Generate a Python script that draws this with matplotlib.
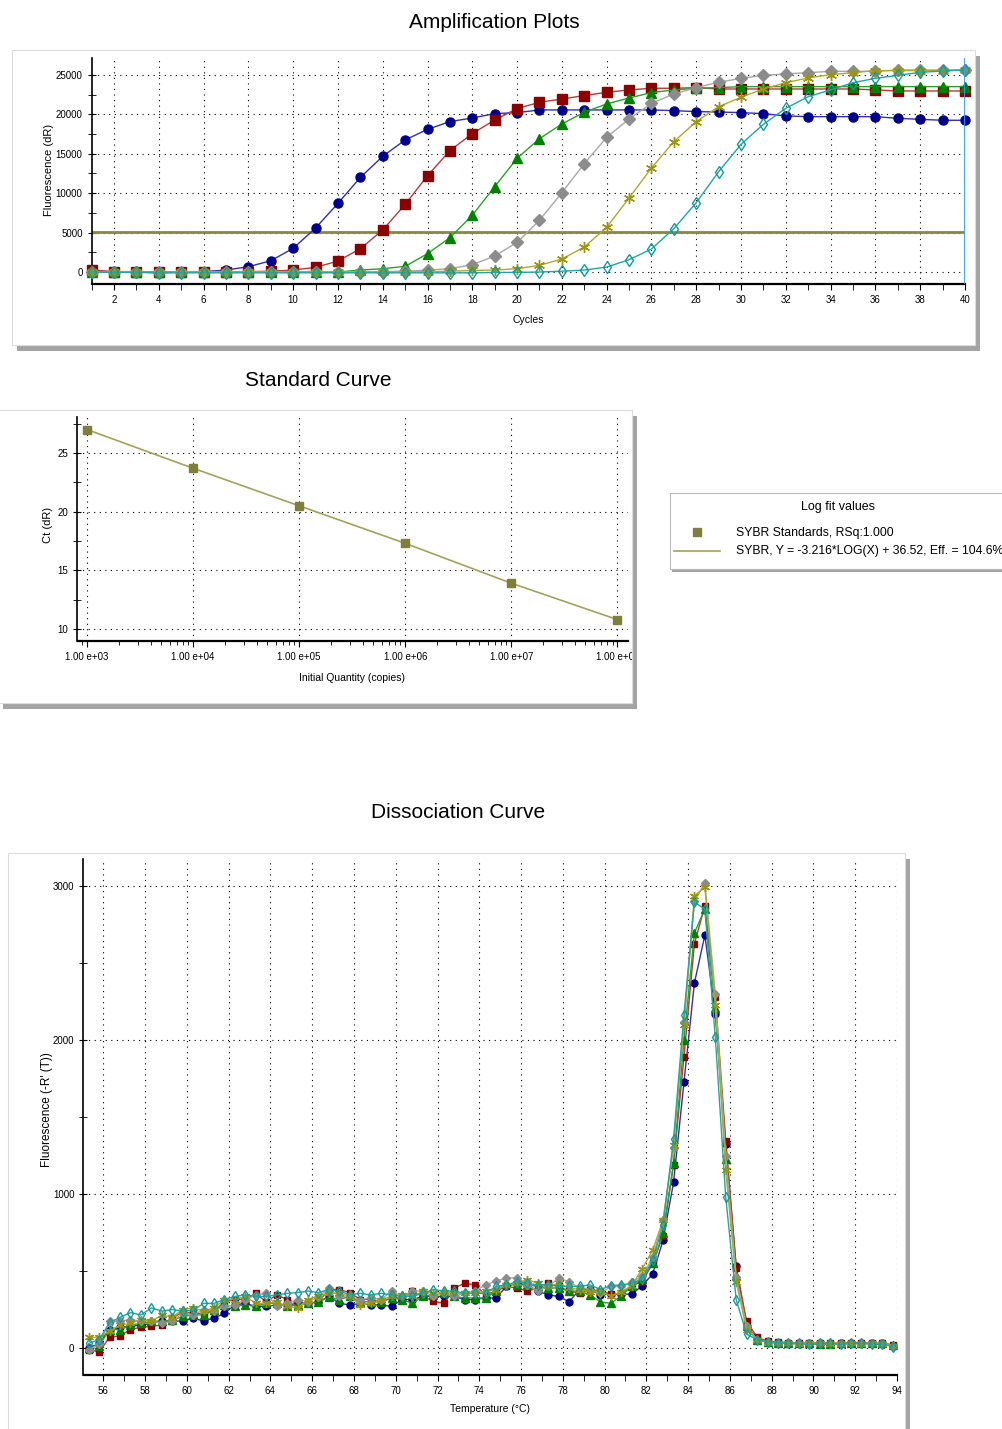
import numpy as np
import matplotlib
matplotlib.use("Agg")
import matplotlib.pyplot as plt
from matplotlib.patches import Rectangle
from matplotlib.lines import Line2D
from matplotlib.ticker import MultipleLocator, FixedLocator, LogLocator, NullFormatter, FuncFormatter
from matplotlib.transforms import Bbox, TransformedBbox

plt.rcParams['font.family'] = ['Liberation Sans Narrow', 'Liberation Sans', 'DejaVu Sans']

# ---------------- data ----------------
cycles = np.arange(1, 41)
amp_blue = [150, 0, 0, -100, 0, 50, 250, 670, 1430, 3000,
            5580, 8710, 12000, 14680, 16750, 18100, 19080, 19540, 20090, 20220,
            20560, 20560, 20560, 20560, 20560, 20560, 20470, 20350, 20300, 20220,
            20090, 19800, 19710, 19710, 19710, 19710, 19500, 19370, 19250, 19250]
amp_red = [250, 50, 50, 0, 50, 50, 50, 50, 100, 250,
           590, 1390, 2960, 5330, 8580, 12220, 15400, 17560, 19290, 20730,
           21530, 21950, 22380, 22800, 23100, 23310, 23310, 23390, 23220, 23220,
           23220, 23220, 23220, 23220, 23220, 23100, 22970, 22970, 22970, 22970]
amp_green = [0, 0, 0, -50, 0, 0, 0, 0, 0, 0,
             50, 0, 250, 420, 720, 2330, 4360, 7190, 10830, 14420,
             16920, 18780, 20270, 21320, 22080, 22760, 23100, 23310, 23390, 23520,
             23520, 23520, 23520, 23520, 23520, 23520, 23520, 23520, 23520, 23520]
amp_grey = [0, 0, 0, -50, 0, 0, 0, 0, 0, 0,
            0, 0, 0, 50, 100, 250, 420, 930, 2030, 3760,
            6560, 10070, 13750, 17090, 19410, 21400, 22590, 23390, 24070, 24570,
            24950, 25130, 25290, 25460, 25460, 25460, 25630, 25630, 25630, 25630]
amp_olive = [0, 0, 0, -50, 0, 0, 0, 0, 0, 0,
             0, 0, 0, 0, 0, 50, 100, 200, 250, 420,
             850, 1650, 3170, 5670, 9390, 13200, 16540, 19080, 20980, 22170,
             23220, 24020, 24620, 25040, 25290, 25550, 25550, 25550, 25550, 25630]
amp_teal = [0, -50, -50, -100, -100, -100, -100, -100, -100, -100,
            -100, -100, -100, -100, -100, -100, -100, -100, -50, -50,
            0, 100, 250, 630, 1560, 2920, 5500, 8800, 12730, 16200,
            18740, 20770, 22250, 23100, 24020, 24570, 24950, 25330, 25500, 25630]
threshold = 5100

quantity = [1e3, 1e4, 1e5, 1e6, 1e7, 1e8]
ct = [27.0, 23.7, 20.5, 17.3, 13.9, 10.8]
legend_title = 'Log fit values'
legend_labels = ['SYBR Standards, RSq:1.000',
                 'SYBR, Y = -3.216*LOG(X) + 36.52, Eff. = 104.6%']

temps = np.arange(55.3, 94.0, 0.5)
dis_blue = [0, 30, 120, 135, 140, 150, 160, 175, 175, 175,
            195, 175, 195, 225, 280, 290, 270, 270, 280, 280,
            290, 290, 300, 335, 290, 280, 290, 280, 280, 270,
            315, 315, 335, 335, 335, 335, 315, 315, 325, 325,
            400, 420, 410, 370, 345, 335, 300, 380, 380, 345,
            350, 350, 350, 405, 480, 700, 1075, 1725, 2370, 2680,
            2170, 1325, 530, 145, 60, 40, 35, 30, 30, 25,
            30, 25, 30, 35, 35, 30, 30, 15]
dis_red = [-10, -25, 70, 80, 120, 135, 140, 150, 195, 235,
           225, 225, 240, 300, 315, 315, 355, 300, 345, 315,
           290, 290, 300, 380, 380, 360, 315, 315, 300, 325,
           325, 370, 335, 305, 290, 390, 420, 410, 345, 370,
           400, 390, 370, 390, 420, 400, 370, 355, 380, 370,
           350, 355, 405, 430, 550, 730, 1190, 1890, 2625, 2870,
           2280, 1345, 520, 175, 70, 45, 40, 35, 35, 30,
           35, 35, 30, 30, 35, 30, 30, 20]
dis_green = [0, 15, 120, 120, 150, 160, 175, 175, 180, 205,
             215, 215, 250, 280, 270, 280, 270, 290, 290, 270,
             280, 290, 300, 330, 315, 335, 300, 300, 300, 325,
             315, 290, 335, 345, 355, 335, 325, 325, 325, 370,
             420, 410, 410, 400, 390, 390, 370, 370, 345, 300,
             290, 340, 400, 450, 550, 745, 1200, 2000, 2695, 2850,
             2210, 1225, 470, 140, 55, 40, 35, 30, 30, 30,
             25, 25, 30, 30, 30, 30, 30, 20]
dis_grey = [-10, 25, 175, 175, 185, 175, 175, 160, 175, 225,
            215, 250, 240, 270, 280, 315, 345, 355, 270, 290,
            315, 300, 330, 390, 335, 335, 315, 325, 315, 370,
            335, 370, 370, 335, 355, 335, 355, 370, 410, 435,
            455, 455, 410, 370, 400, 455, 430, 390, 380, 355,
            400, 400, 430, 465, 590, 830, 1300, 2120, 2900, 3020,
            2300, 1250, 460, 140, 55, 40, 35, 30, 35, 30,
            30, 35, 30, 30, 30, 35, 30, 15]
dis_olive = [70, 70, 110, 150, 160, 185, 175, 215, 200, 250,
             260, 240, 260, 315, 315, 335, 290, 290, 300, 270,
             260, 315, 340, 355, 355, 335, 280, 290, 315, 335,
             345, 335, 368, 355, 365, 355, 355, 355, 368, 380,
             410, 420, 445, 420, 400, 420, 390, 380, 365, 365,
             340, 365, 405, 515, 635, 830, 1320, 2100, 2935, 2995,
             2230, 1155, 430, 120, 55, 35, 30, 30, 25, 30,
             30, 25, 25, 30, 25, 30, 25, 15]
dis_teal = [30, 55, 165, 200, 230, 215, 260, 240, 250, 240,
            245, 290, 290, 315, 335, 345, 335, 335, 345, 355,
            360, 370, 360, 380, 370, 345, 355, 345, 355, 345,
            335, 335, 355, 380, 370, 370, 355, 355, 355, 400,
            410, 430, 420, 410, 410, 400, 400, 400, 410, 380,
            405, 410, 420, 450, 570, 800, 1355, 2165, 2895, 2850,
            2020, 980, 315, 90, 55, 40, 35, 30, 30, 25,
            30, 30, 25, 30, 30, 25, 25, 10]

# ---------------- layout helpers ----------------
W, H = 1003, 1429
fig = plt.figure(figsize=(W / 100, H / 100), dpi=100)


def ax_rect(l, t, r, b):
    return [l / W, 1 - b / H, (r - l) / W, (b - t) / H]


def panel(l, t, r, b, shadow=5, edge='#dcdcdc'):
    fig.add_artist(Rectangle(((l + shadow) / W, 1 - (b + shadow + 1) / H), (r - l) / W, (b - t) / H,
                             transform=fig.transFigure, facecolor='#a4a4a4',
                             edgecolor='none', zorder=-3))
    fig.add_artist(Rectangle((l / W, 1 - b / H), (r - l) / W, (b - t) / H,
                             transform=fig.transFigure, facecolor='white',
                             edgecolor=edge, lw=0.8, zorder=-2))


def style(ax):
    ax.set_facecolor('none')
    ax.spines['top'].set_visible(False)
    ax.spines['right'].set_visible(False)
    ax.spines['left'].set_linewidth(1.2)
    ax.spines['bottom'].set_linewidth(1.6)
    ax.grid(True, which='major', color='black', ls=(0, (1, 4)), lw=0.8)
    ax.tick_params(axis='x', which='both', direction='out', labelsize=7, pad=4, length=4)
    ax.tick_params(axis='y', which='both', direction='inout', labelsize=7, length=6)


series_style = [
    # line colour, marker, marker face, marker edge, size
    ('#3030b0', 'o', '#00008b', '#00008b', 6.5),
    ('#b83a3a', 's', '#8b0000', '#8b0000', 6.5),
    ('#2aa02a', '^', '#008000', '#008000', 7),
    ('#a8a8a8', 'D', '#8c8c8c', '#8c8c8c', 6),
    ('#b0a830', (6, 2, 0), '#9a9410', '#9a9410', 8),
    ('#22a5a5', 'd', 'none', '#139a9a', 6.5),
]
ylab_font = ['Liberation Sans', 'DejaVu Sans']

# ---------------- Amplification Plots ----------------
panel(12, 50, 975, 345)
fig.text(494 / W, 1 - 23 / H, 'Amplification Plots', ha='center', va='center', fontsize=15)
ax1 = fig.add_axes(ax_rect(91.6, 58, 965, 284))
style(ax1)
amp = [amp_blue, amp_red, amp_green, amp_grey, amp_olive, amp_teal]
for vals, (lc, m, mf, me, ms) in zip(amp, series_style):
    ax1.plot(cycles, vals, color=lc, lw=1, marker=m, ms=ms, mfc=mf, mec=me,
             mew=1, clip_on=False, zorder=3)
ax1.axhline(threshold, color='#8a8a3c', lw=2, zorder=2)
ax1.axvline(40, color='#3399ff', lw=2, zorder=4)
ax1.set_xlim(1, 40)
ax1.set_ylim(-1520, 27150)
ax1.xaxis.set_major_locator(MultipleLocator(2))
ax1.xaxis.set_minor_locator(MultipleLocator(1))
ax1.yaxis.set_major_locator(FixedLocator([0, 5000, 10000, 15000, 20000, 25000]))
ax1.yaxis.set_minor_locator(FixedLocator([2500, 7500, 12500, 17500, 22500]))
ax1.set_ylabel('Fluorescence (dR)', fontsize=8, family=ylab_font)
ax1.yaxis.set_label_coords(-0.0436, 0.505)
ax1.set_xlabel('Cycles', fontsize=7.5)
ax1.xaxis.set_label_coords(0.5, -0.135)

# ---------------- Standard Curve ----------------
panel(-2, 410, 632, 703)
fig.text(318 / W, 1 - 381 / H, 'Standard Curve', ha='center', va='center', fontsize=15)
ax2 = fig.add_axes(ax_rect(77.5, 417, 628, 640.7))
style(ax2)
ax2.set_xscale('log')
ax2.plot(quantity, ct, color='#a3a35a', lw=1.2, zorder=2, clip_on=False)
ax2.plot(quantity, ct, ls='none', marker='s', ms=6, color='#7f7f3c', zorder=3, clip_on=False)
ax2.set_xlim(10 ** 2.91, 10 ** 8.1)
ax2.set_ylim(9.0, 28.07)
ax2.xaxis.set_major_locator(FixedLocator(quantity))
ax2.xaxis.set_minor_locator(LogLocator(base=10, subs=np.arange(2, 10)))
ax2.xaxis.set_minor_formatter(NullFormatter())
ax2.xaxis.set_major_formatter(FuncFormatter(lambda v, p: '1.00 e+%02d' % round(np.log10(v))))
ax2.tick_params(axis='x', which='minor', length=3)
ax2.yaxis.set_major_locator(FixedLocator([10, 15, 20, 25]))
ax2.yaxis.set_minor_locator(FixedLocator([12.5, 17.5, 22.5, 27.5]))
ax2.set_ylabel('Ct (dR)', fontsize=8, family=ylab_font)
ax2.yaxis.set_label_coords(-0.0436, 0.517)
ax2.set_xlabel('Initial Quantity (copies)', fontsize=7.5)
ax2.xaxis.set_label_coords(0.4986, -0.145)

# legend box for the fit, drawn in figure pixels
panel(670, 493, 1012, 569, shadow=2, edge='#b8b8b8')
fig.text(838 / W, 1 - 507 / H, legend_title, ha='center', va='center', fontsize=9)
fig.add_artist(Line2D([697 / W], [1 - 532 / H], transform=fig.transFigure, ls='none',
                      marker='s', ms=6, color='#7f7f3c'))
fig.add_artist(Line2D([674 / W, 720 / W], [1 - 551 / H, 1 - 551 / H], transform=fig.transFigure,
                      color='#a3a35a', lw=1.2))
fig.text(736 / W, 1 - 533 / H, legend_labels[0], ha='left', va='center', fontsize=8.8)
fig.text(736 / W, 1 - 551 / H, legend_labels[1], ha='left', va='center', fontsize=8.8)

# ---------------- Dissociation Curve ----------------
panel(8, 853, 905, 1445)
fig.text(458 / W, 1 - 812 / H, 'Dissociation Curve', ha='center', va='center', fontsize=15)
ax3 = fig.add_axes(ax_rect(83.5, 859, 897, 1375))
style(ax3)
dis = [dis_blue, dis_red, dis_green, dis_grey, dis_olive, dis_teal]
for vals, (lc, m, mf, me, ms) in zip(dis, series_style):
    ax3.plot(temps, vals, color=lc, lw=1, marker=m, ms=ms - 1.5, mfc=mf, mec=me,
             mew=1, clip_on=False, zorder=3)
ax3.set_xlim(55.05, 94)
ax3.set_ylim(-175, 3175)
ax3.xaxis.set_major_locator(MultipleLocator(2))
ax3.xaxis.set_minor_locator(MultipleLocator(1))
ax3.yaxis.set_major_locator(FixedLocator([0, 1000, 2000, 3000]))
ax3.yaxis.set_minor_locator(FixedLocator([500, 1500, 2500]))
ax3.set_ylabel("Fluorescence (-R' (T))", fontsize=8.5, family=ylab_font)
ax3.yaxis.set_label_coords(-0.0369, 0.514)
ax3.set_xlabel('Temperature (°C)', fontsize=7.5)
ax3.xaxis.set_label_coords(0.5, -0.056)

# clip the last standard-curve tick label at the panel edge, as in the original
fig.canvas.draw()
clip = TransformedBbox(Bbox([[0, 0], [632 / W, 1]]), fig.transFigure)
for lab in ax2.get_xticklabels():
    lab.set_clip_box(clip)
    lab.set_clip_on(True)

fig.savefig('out.png', dpi=100)
